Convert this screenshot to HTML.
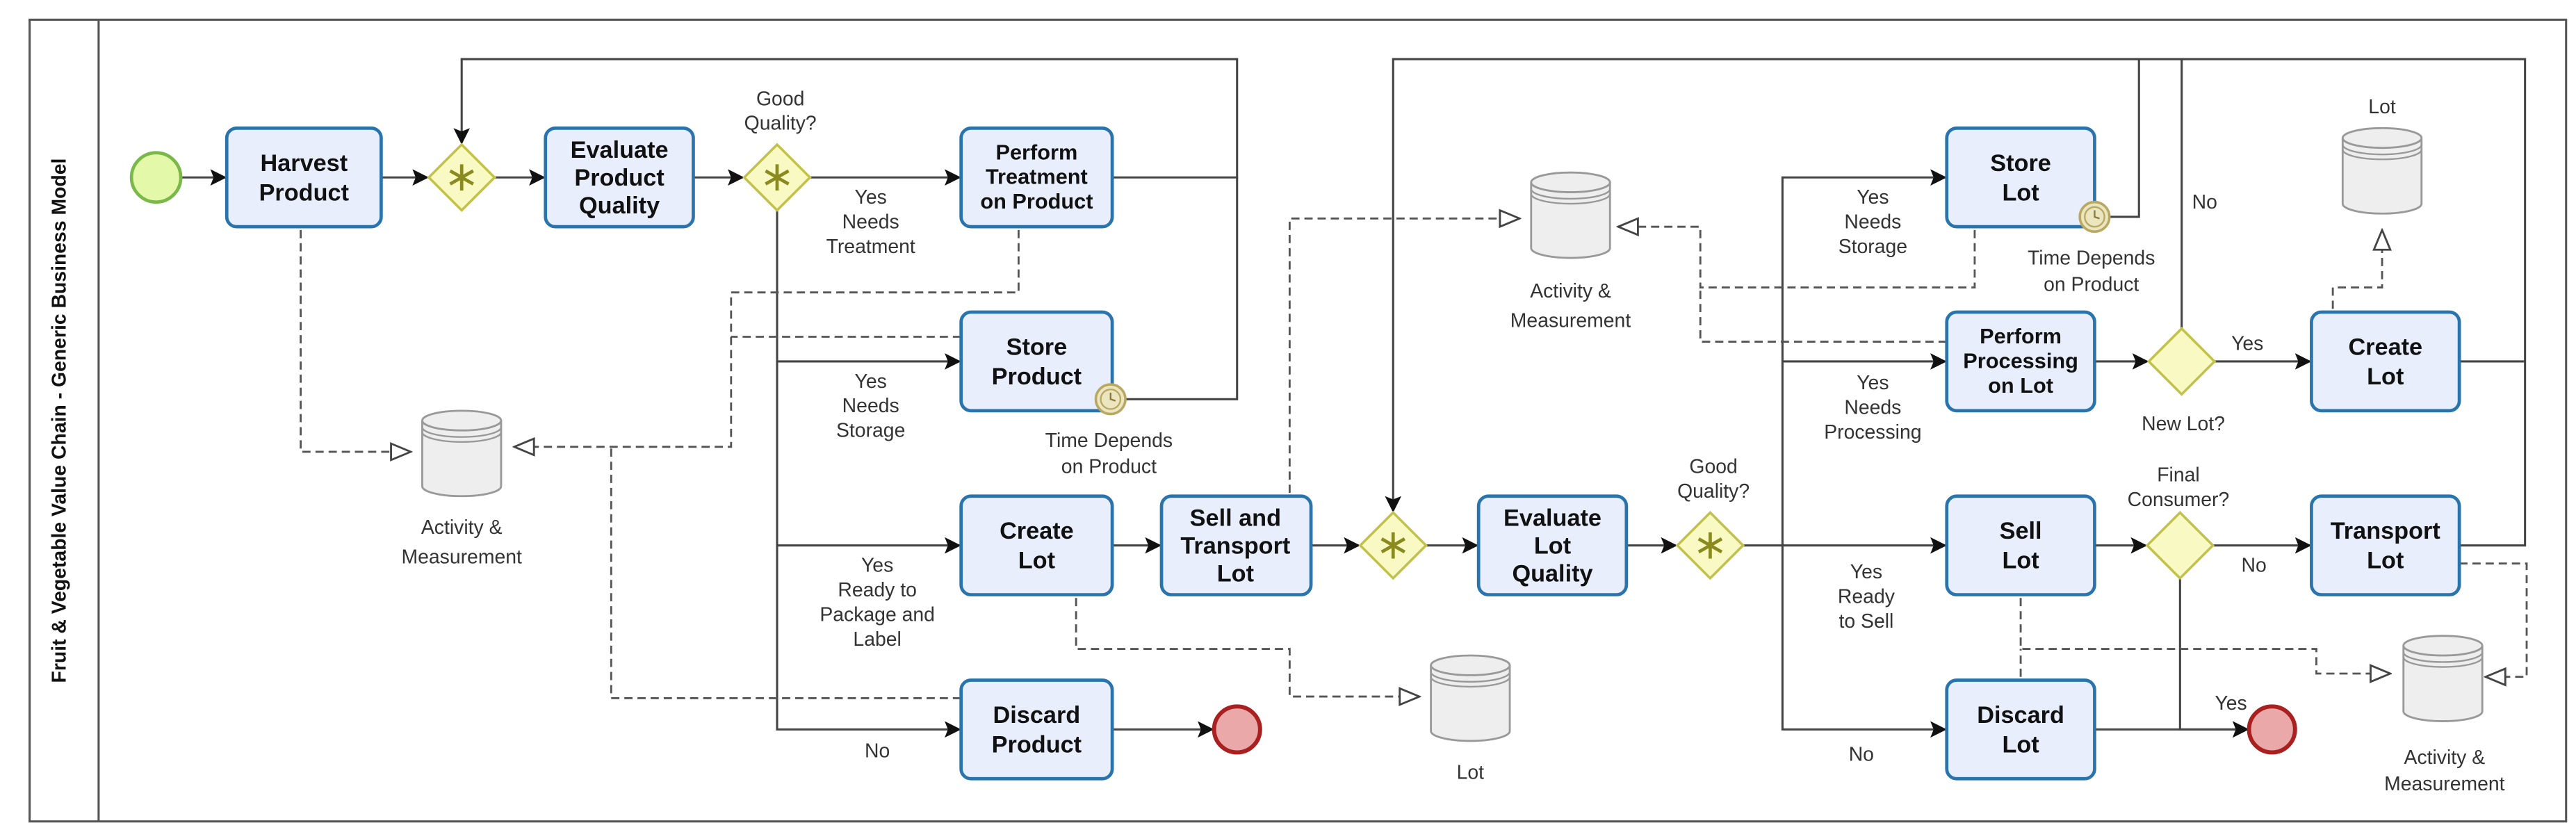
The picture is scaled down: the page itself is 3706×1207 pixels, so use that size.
<!DOCTYPE html>
<html><head><meta charset="utf-8"><style>
html,body{margin:0;padding:0;background:#fff;}
svg{display:block;}
text{font-family:"Liberation Sans",sans-serif;}
.t{font-size:14.5px;font-weight:bold;fill:#111;text-anchor:middle;}
.l{font-size:12px;fill:#333;text-anchor:middle;}
.box{fill:#e9eefc;stroke:#2a74ad;stroke-width:2;}
.f{fill:none;stroke:#444;stroke-width:1.3;}
.d{fill:none;stroke:#555;stroke-width:1.2;stroke-dasharray:5,3;}
.gw{fill:#f9f9c4;stroke:#c2c24a;stroke-width:1.5;}
.st{stroke:#8a8a1e;stroke-width:2;}
</style></head><body>
<svg width="3706" height="1207" viewBox="0 0 1568 510.7" xmlns="http://www.w3.org/2000/svg">
<defs>
<marker id="a" markerWidth="10" markerHeight="10" refX="9" refY="5" orient="auto" markerUnits="userSpaceOnUse"><path d="M0,0 L10,5 L0,10 L2,5 z" fill="#111"/></marker>
<marker id="o" markerWidth="14" markerHeight="14" refX="13" refY="7" orient="auto" markerUnits="userSpaceOnUse"><path d="M1,2 L13,7 L1,12 z" fill="#fff" stroke="#444" stroke-width="1.2"/></marker>
<g id="ds"><path d="M-24,-20 L-24,20 A24,6 0 0 0 24,20 L24,-20" fill="#eee" stroke="#999" stroke-width="1.2"/><ellipse cx="0" cy="-20" rx="24" ry="6" fill="#eee" stroke="#999" stroke-width="1.2"/><path d="M-24,-16 A24,6 0 0 0 24,-16 M-24,-13 A24,6 0 0 0 24,-13" fill="none" stroke="#999" stroke-width="1"/></g>
<g id="gs"><line x1="0" y1="-8" x2="0" y2="8" class="st"/><line x1="-7" y1="-4" x2="7" y2="4" class="st"/><line x1="-7" y1="4" x2="7" y2="-4" class="st"/></g>
<g id="tm"><circle r="9" fill="#ebe6c0" stroke="#b8a862" stroke-width="1.5"/><circle r="6" fill="none" stroke="#b8a862" stroke-width="1"/><path d="M0,-4 L0,0 L3,1" fill="none" stroke="#8a7a40" stroke-width="1"/></g>
</defs>
<rect x="18" y="12" width="1544" height="488" fill="none" stroke="#555" stroke-width="1.3"/>
<line x1="60" y1="12" x2="60" y2="500" stroke="#555" stroke-width="1.3"/>
<text transform="translate(40,256) rotate(-90)" text-anchor="middle" style="font-size:12px;font-weight:bold;fill:#111">Fruit &amp; Vegetable Value Chain - Generic Business Model</text>

<!-- flows -->
<g class="f" marker-end="url(#a)">
<path d="M110,108 H137"/>
<path d="M232,108 H260"/>
<path d="M301,108 H331"/>
<path d="M422,108 H452"/>
<path d="M493,108 H584"/>
<path d="M677,108 H753 V36 H281 V87"/>
<path d="M473,128 V220 H584"/>
<path d="M473,220 V332 H584"/>
<path d="M473,332 V444 H584"/>
<path d="M677,444 H738"/>
<path d="M677,332 H706"/>
<path d="M798,332 H827"/>
<path d="M868,332 H899"/>
<path d="M990,332 H1020"/>
<path d="M1302,36 H848 V311"/>
<path d="M1061,332 H1184"/>
<path d="M1085,332 V108 H1184"/>
<path d="M1085,220 H1184"/>
<path d="M1085,332 V444 H1184"/>
<path d="M1275,220 H1307"/>
<path d="M1348,220 H1406"/>
<path d="M1275,332 H1306"/>
<path d="M1347,332 H1406"/>
<path d="M1275,444 H1368"/>
<path d="M1327,352 V444 H1368"/>
</g>
<g class="f">
<path d="M685,243 H753 V108"/>
<path d="M1284,132 H1302 V36 H1537 V332 H1497"/>
<path d="M1328,200 V36"/>
<path d="M1497,220 H1537"/>
</g>

<!-- dashed -->
<g class="d" marker-end="url(#o)">
<path d="M183,140 V275 H250"/>
<path d="M620,140 V178 H445 V272 H313"/>
<path d="M655,364 V395 H785 V424 H864"/>
<path d="M785,300 V133 H925"/>
<path d="M1202,140 V175 H1035 V138 H985"/>
<path d="M1420,188 V175 H1450 V140"/>
<path d="M1230,364 V395 H1410 V410 H1455"/>
<path d="M1497,343 H1538 V412 H1513"/>
</g>
<g class="d">
<path d="M585,205 H445"/>
<path d="M585,425 H372 V272"/>
<path d="M1185,208 H1035 V175"/>
<path d="M1230,412 V395"/>
</g>

<!-- events -->
<circle cx="95" cy="108" r="15" fill="#e3f8a8" stroke="#7ab84a" stroke-width="2"/>
<circle cx="753" cy="444" r="14" fill="#eba8a8" stroke="#a82020" stroke-width="2.5"/>
<circle cx="1383" cy="444" r="14" fill="#eba8a8" stroke="#a82020" stroke-width="2.5"/>

<!-- tasks -->
<rect class="box" x="138" y="78" width="94" height="60" rx="6"/>
<text class="t" x="185" y="104">Harvest</text><text class="t" x="185" y="122">Product</text>
<rect class="box" x="332" y="78" width="90" height="60" rx="6"/>
<text class="t" x="377" y="96">Evaluate</text><text class="t" x="377" y="113">Product</text><text class="t" x="377" y="130">Quality</text>
<rect class="box" x="585" y="78" width="92" height="60" rx="6"/>
<text class="t" x="631" y="97" style="font-size:13px">Perform</text><text class="t" x="631" y="112" style="font-size:13px">Treatment</text><text class="t" x="631" y="127" style="font-size:13px">on Product</text>
<rect class="box" x="585" y="190" width="92" height="60" rx="6"/>
<text class="t" x="631" y="216">Store</text><text class="t" x="631" y="234">Product</text>
<rect class="box" x="585" y="302" width="92" height="60" rx="6"/>
<text class="t" x="631" y="328">Create</text><text class="t" x="631" y="346">Lot</text>
<rect class="box" x="707" y="302" width="91" height="60" rx="6"/>
<text class="t" x="752" y="320">Sell and</text><text class="t" x="752" y="337">Transport</text><text class="t" x="752" y="354">Lot</text>
<rect class="box" x="585" y="414" width="92" height="60" rx="6"/>
<text class="t" x="631" y="440">Discard</text><text class="t" x="631" y="458">Product</text>
<rect class="box" x="900" y="302" width="90" height="60" rx="6"/>
<text class="t" x="945" y="320">Evaluate</text><text class="t" x="945" y="337">Lot</text><text class="t" x="945" y="354">Quality</text>
<rect class="box" x="1185" y="78" width="90" height="60" rx="6"/>
<text class="t" x="1230" y="104">Store</text><text class="t" x="1230" y="122">Lot</text>
<rect class="box" x="1185" y="190" width="90" height="60" rx="6"/>
<text class="t" x="1230" y="209" style="font-size:13px">Perform</text><text class="t" x="1230" y="224" style="font-size:13px">Processing</text><text class="t" x="1230" y="239" style="font-size:13px">on Lot</text>
<rect class="box" x="1185" y="302" width="90" height="60" rx="6"/>
<text class="t" x="1230" y="328">Sell</text><text class="t" x="1230" y="346">Lot</text>
<rect class="box" x="1185" y="414" width="90" height="60" rx="6"/>
<text class="t" x="1230" y="440">Discard</text><text class="t" x="1230" y="458">Lot</text>
<rect class="box" x="1407" y="190" width="90" height="60" rx="6"/>
<text class="t" x="1452" y="216">Create</text><text class="t" x="1452" y="234">Lot</text>
<rect class="box" x="1407" y="302" width="90" height="60" rx="6"/>
<text class="t" x="1452" y="328">Transport</text><text class="t" x="1452" y="346">Lot</text>

<use href="#tm" x="676" y="243"/>
<use href="#tm" x="1275" y="132"/>

<!-- gateways -->
<polygon class="gw" points="281,88 301,108 281,128 261,108"/><use href="#gs" x="281" y="108"/>
<polygon class="gw" points="473,88 493,108 473,128 453,108"/><use href="#gs" x="473" y="108"/>
<polygon class="gw" points="848,312 868,332 848,352 828,332"/><use href="#gs" x="848" y="332"/>
<polygon class="gw" points="1041,312 1061,332 1041,352 1021,332"/><use href="#gs" x="1041" y="332"/>
<polygon class="gw" points="1328,200 1348,220 1328,240 1308,220"/>
<polygon class="gw" points="1327,312 1347,332 1327,352 1307,332"/>

<!-- data stores -->
<use href="#ds" x="281" y="276"/>
<use href="#ds" x="956" y="131"/>
<use href="#ds" x="895" y="425"/>
<use href="#ds" x="1450" y="104"/>
<use href="#ds" x="1487" y="413"/>

<!-- labels -->
<g class="l">
<text x="281" y="325">Activity &amp;</text><text x="281" y="343">Measurement</text>
<text x="956" y="181">Activity &amp;</text><text x="956" y="199">Measurement</text>
<text x="895" y="474">Lot</text>
<text x="1450" y="69">Lot</text>
<text x="1488" y="465">Activity &amp;</text><text x="1488" y="481">Measurement</text>
<text x="475" y="64">Good</text><text x="475" y="79">Quality?</text>
<text x="1043" y="288">Good</text><text x="1043" y="303">Quality?</text>
<text x="530" y="124">Yes</text><text x="530" y="139">Needs</text><text x="530" y="154">Treatment</text>
<text x="530" y="236">Yes</text><text x="530" y="251">Needs</text><text x="530" y="266">Storage</text>
<text x="534" y="348">Yes</text><text x="534" y="363">Ready to</text><text x="534" y="378">Package and</text><text x="534" y="393">Label</text>
<text x="534" y="461">No</text>
<text x="675" y="272">Time Depends</text><text x="675" y="288">on Product</text>
<text x="1140" y="124">Yes</text><text x="1140" y="139">Needs</text><text x="1140" y="154">Storage</text>
<text x="1140" y="237">Yes</text><text x="1140" y="252">Needs</text><text x="1140" y="267">Processing</text>
<text x="1136" y="352">Yes</text><text x="1136" y="367">Ready</text><text x="1136" y="382">to Sell</text>
<text x="1133" y="463">No</text>
<text x="1273" y="161">Time Depends</text><text x="1273" y="177">on Product</text>
<text x="1342" y="127">No</text>
<text x="1368" y="213">Yes</text>
<text x="1329" y="262">New Lot?</text>
<text x="1326" y="293">Final</text><text x="1326" y="308">Consumer?</text>
<text x="1372" y="348">No</text>
<text x="1358" y="432">Yes</text>
</g>
</svg>
</body></html>
